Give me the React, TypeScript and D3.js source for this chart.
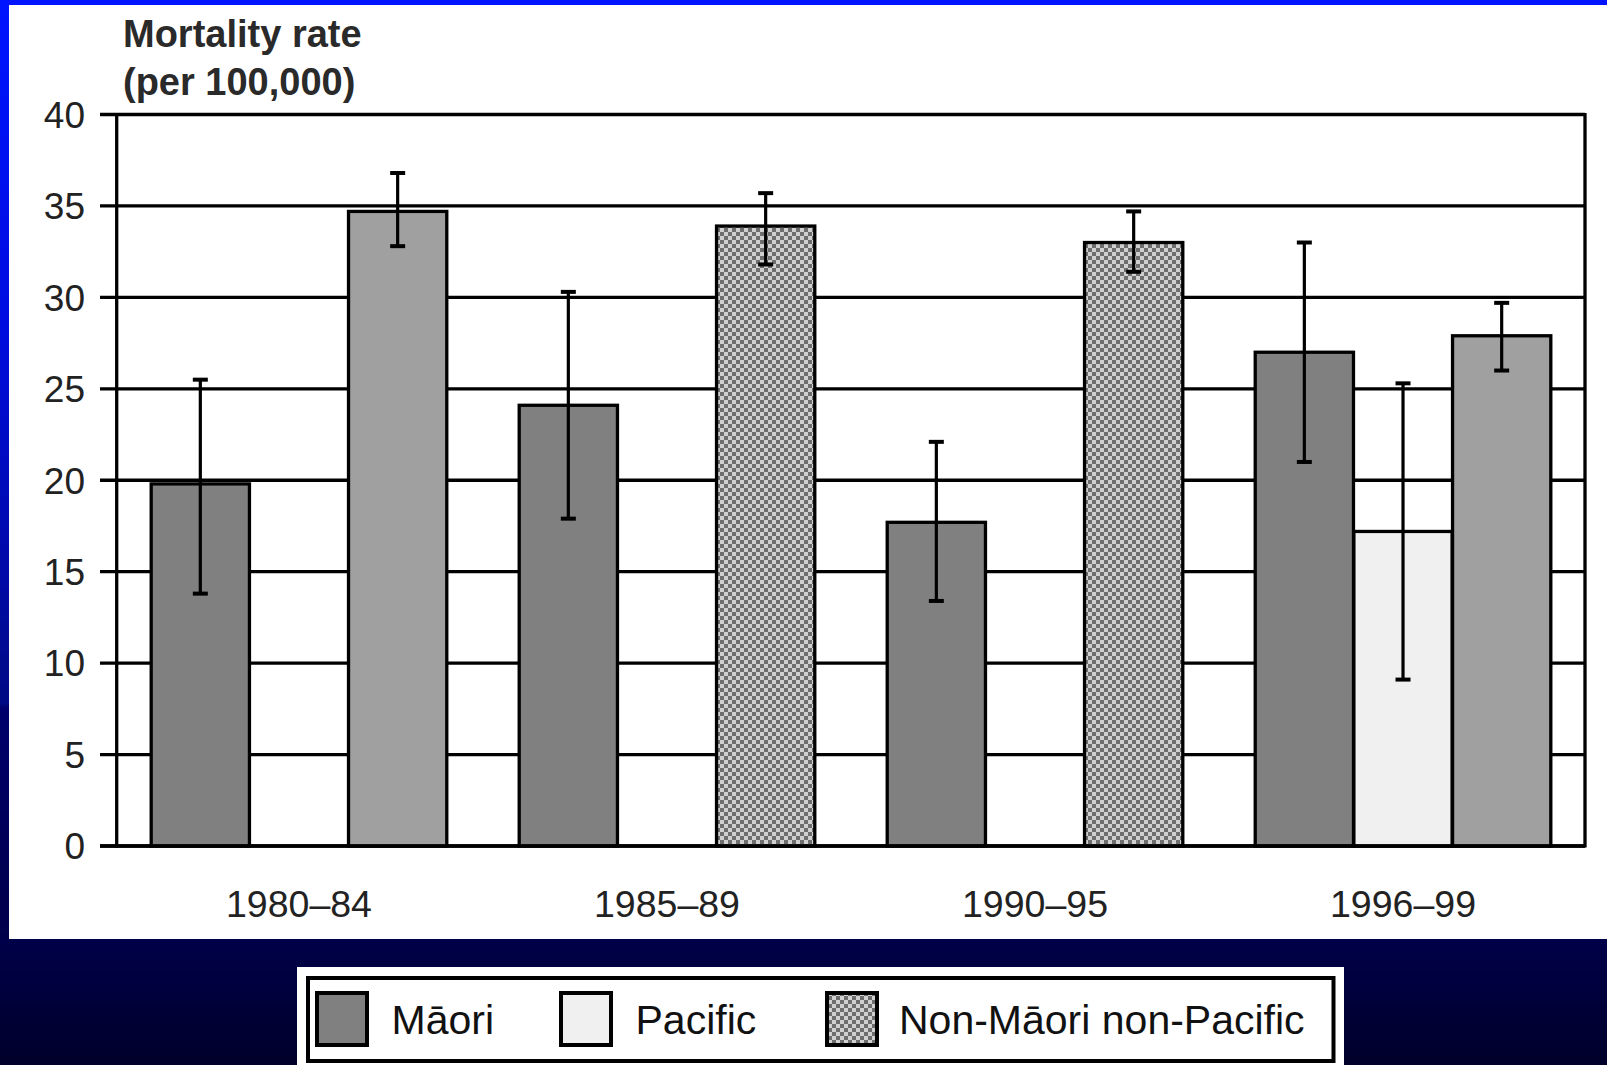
import React from "react";
import * as d3 from "d3";

// Age-standardised mortality rate per 100,000, with 95% confidence limits
const periods = ["1980–84", "1985–89", "1990–95", "1996–99"];
const seriesNames = ["Māori", "Pacific", "Non-Māori non-Pacific"];

const maoriRate = [19.8, 24.1, 17.7, 27.0];
const maoriLow = [13.8, 17.9, 13.4, 21.0];
const maoriHigh = [25.5, 30.3, 22.1, 33.0];

const pacificRate: (number | null)[] = [null, null, null, 17.2];
const pacificLow: (number | null)[] = [null, null, null, 9.1];
const pacificHigh: (number | null)[] = [null, null, null, 25.3];

const otherRate = [34.7, 33.9, 33.0, 27.9];
const otherLow = [32.8, 31.8, 31.4, 26.0];
const otherHigh = [36.8, 35.7, 34.7, 29.7];

const yTicks = [0, 5, 10, 15, 20, 25, 30, 35, 40];

// Periods where the third series is drawn with the checkered fill
const checkeredPeriods = new Set(["1985–89", "1990–95"]);

const W = 1607;
const H = 1065;
const FONT = "'Liberation Sans', Arial, Helvetica, sans-serif";

type Row = {
  period: string;
  series: string;
  value: number;
  low: number;
  high: number;
};

const rows: Row[] = [];
periods.forEach((p, i) => {
  rows.push({ period: p, series: seriesNames[0], value: maoriRate[i], low: maoriLow[i], high: maoriHigh[i] });
  if (pacificRate[i] != null) {
    rows.push({
      period: p,
      series: seriesNames[1],
      value: pacificRate[i] as number,
      low: pacificLow[i] as number,
      high: pacificHigh[i] as number,
    });
  }
  rows.push({ period: p, series: seriesNames[2], value: otherRate[i], low: otherLow[i], high: otherHigh[i] });
});

function fillFor(r: Row) {
  if (r.series === seriesNames[0]) return "#808080";
  if (r.series === seriesNames[1]) return "#f0f0f0";
  return checkeredPeriods.has(r.period) ? "url(#checker)" : "#a0a0a0";
}

export default function App() {
  const y = d3.scaleLinear().domain([0, 40]).range([846, 114.5]);
  const x0 = d3
    .scaleBand<string>()
    .domain(periods)
    .range([115, 1587])
    .paddingInner(0.1957)
    .paddingOuter(0.0978);
  const x1 = d3.scaleBand<string>().domain(seriesNames).range([0, x0.bandwidth()]);

  const axisLeft = 116.7;
  const axisRight = 1585;
  const tickStart = 100;
  const barW = x1.bandwidth() - 0.4;

  const legendItems = [
    { name: seriesNames[0], fill: "#808080", sx: 317, tx: 391.5 },
    { name: seriesNames[1], fill: "#f0f0f0", sx: 561, tx: 635.5 },
    { name: seriesNames[2], fill: "url(#checker)", sx: 827, tx: 899 },
  ];

  return (
    <svg
      width={W}
      height={H}
      viewBox={`0 0 ${W} ${H}`}
      style={{ position: "fixed", left: 0, top: 0, display: "block" }}
    >
      <defs>
        <linearGradient id="bg" x1="0" y1="0" x2="0" y2="1">
          <stop offset="0" stopColor="#0014ff" />
          <stop offset="0.3" stopColor="#000ce0" />
          <stop offset="0.55" stopColor="#000aa4" />
          <stop offset="0.66" stopColor="#000a84" />
          <stop offset="0.665" stopColor="#00006c" />
          <stop offset="0.88" stopColor="#00004a" />
          <stop offset="1" stopColor="#00002a" />
        </linearGradient>
        <pattern id="checker" patternUnits="userSpaceOnUse" width="8" height="8">
          <rect width="8" height="8" fill="#d0d0d0" />
          <rect x="0" y="0" width="4" height="4" fill="#6e6e6e" />
          <rect x="4" y="4" width="4" height="4" fill="#6e6e6e" />
        </pattern>
      </defs>

      <rect x={0} y={0} width={W} height={H} fill="url(#bg)" />
      <rect x={9} y={5} width={W - 9} height={934} fill="#ffffff" />

      {/* axis title */}
      <text x={123} y={46.5} fontFamily={FONT} fontWeight="bold" fontSize={38} fill="#2a2a2a">
        Mortality rate
      </text>
      <text x={123} y={94.5} fontFamily={FONT} fontWeight="bold" fontSize={38} fill="#2a2a2a">
        (per 100,000)
      </text>

      {/* horizontal grid lines with tick stubs */}
      {yTicks.map((t) => (
        <g key={t}>
          <line x1={tickStart} x2={axisRight} y1={y(t)} y2={y(t)} stroke="#000" strokeWidth={3.3} />
          <text
            x={85}
            y={y(t)}
            dy="0.36em"
            textAnchor="end"
            fontFamily={FONT}
            fontSize={37}
            fill="#222"
          >
            {t}
          </text>
        </g>
      ))}

      {/* bars */}
      {rows.map((r) => {
        const cx = (x0(r.period) as number) + (x1(r.series) as number) + x1.bandwidth() / 2;
        return (
          <rect
            key={r.period + r.series}
            x={cx - barW / 2}
            y={y(r.value)}
            width={barW}
            height={y(0) - y(r.value)}
            fill={fillFor(r)}
            stroke="#000"
            strokeWidth={3.3}
          />
        );
      })}

      {/* confidence intervals */}
      {rows.map((r) => {
        const cx = (x0(r.period) as number) + (x1(r.series) as number) + x1.bandwidth() / 2;
        return (
          <g key={"e" + r.period + r.series} stroke="#000">
            <line x1={cx} x2={cx} y1={y(r.high)} y2={y(r.low)} strokeWidth={3.2} />
            <line x1={cx - 7.5} x2={cx + 7.5} y1={y(r.high)} y2={y(r.high)} strokeWidth={4} />
            <line x1={cx - 7.5} x2={cx + 7.5} y1={y(r.low)} y2={y(r.low)} strokeWidth={4} />
          </g>
        );
      })}

      {/* plot frame */}
      <line x1={axisLeft} x2={axisLeft} y1={y(40) - 1.6} y2={y(0) + 1.6} stroke="#000" strokeWidth={3.3} />
      <line x1={axisRight} x2={axisRight} y1={y(40) - 1.6} y2={y(0) + 1.6} stroke="#000" strokeWidth={3.3} />
      <line x1={tickStart} x2={axisRight} y1={y(0)} y2={y(0)} stroke="#000" strokeWidth={3.3} />

      {/* period labels */}
      {periods.map((p) => (
        <text
          key={p}
          x={(x0(p) as number) + x0.bandwidth() / 2}
          y={917}
          textAnchor="middle"
          fontFamily={FONT}
          fontSize={37.5}
          fill="#222"
        >
          {p}
        </text>
      ))}

      {/* legend */}
      <rect x={297} y={967} width={1047} height={H - 967} fill="#ffffff" />
      <rect x={308} y={978} width={1025.5} height={83} fill="none" stroke="#000" strokeWidth={4} />
      {legendItems.map((it) => (
        <g key={it.name}>
          <rect x={it.sx} y={993} width={50} height={52} fill={it.fill} stroke="#000" strokeWidth={4} />
          <text x={it.tx} y={1033.5} fontFamily={FONT} fontSize={41} fill="#111">
            {it.name}
          </text>
        </g>
      ))}
    </svg>
  );
}
